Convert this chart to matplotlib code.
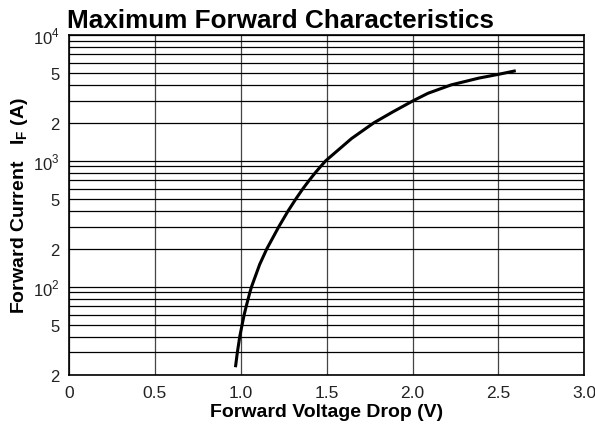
import matplotlib
matplotlib.use('Agg')
import matplotlib.pyplot as plt
import numpy as np

plt.rcParams['font.family'] = ['Liberation Sans', 'DejaVu Sans']
plt.rcParams['mathtext.fontset'] = 'custom'
plt.rcParams['mathtext.rm'] = 'Liberation Sans'
plt.rcParams['mathtext.bf'] = 'Liberation Sans:bold'

# curve
volts = [0.969, 0.980, 0.994, 1.008, 1.020, 1.032, 1.043, 1.053, 1.063, 1.110, 1.152,
         1.222, 1.276, 1.322, 1.362, 1.399, 1.433, 1.465, 1.495, 1.645, 1.775, 1.885,
         2.005, 2.090, 2.225, 2.387, 2.500, 2.601]
amps = [22.9, 30, 40, 50, 60, 70, 80, 90, 100, 150, 200,
        300, 400, 500, 600, 700, 800, 900, 1000, 1500, 2000, 2440,
        3000, 3430, 4000, 4530, 4850, 5180]

x_ticks = [0, 0.5, 1.0, 1.5, 2.0, 2.5, 3.0]
x_labels = ['0', '0.5', '1.0', '1.5', '2.0', '2.5', '3.0']

# horizontal grid lines at every 1-9 step of each decade
y_grid = [20, 30, 40, 50, 60, 70, 80, 90,
          100, 200, 300, 400, 500, 600, 700, 800, 900,
          1000, 2000, 3000, 4000, 5000, 6000, 7000, 8000, 9000, 10000]
y_named = {20: '2', 50: '5', 100: '10$^{\\mathregular{2}}$', 200: '2', 500: '5',
           1000: '10$^{\\mathregular{3}}$', 2000: '2', 5000: '5',
           10000: '10$^{\\mathregular{4}}$'}

fig = plt.figure(figsize=(5.95, 4.31), dpi=100)
ax = fig.add_axes([0.116, 0.1285, 0.866, 0.7885])

ax.plot(volts, amps, color='black', linewidth=2.2, solid_capstyle='butt',
        solid_joinstyle='round')

ax.set_yscale('log')
ax.set_xlim(0, 3.0)
ax.set_ylim(20, 10000)

ax.yaxis.set_minor_locator(matplotlib.ticker.NullLocator())
ax.set_yticks(y_grid)
ax.set_yticklabels([y_named.get(v, '') for v in y_grid])
ax.set_xticks(x_ticks)
ax.set_xticklabels(x_labels)
ax.tick_params(axis='both', length=0, colors='#222222')
ax.tick_params(axis='y', pad=6.5, labelsize=12)
ax.tick_params(axis='x', pad=7.5, labelsize=12.5)

ax.grid(True, axis='y', color='black', linewidth=0.9)
ax.grid(True, axis='x', color='#444444', linewidth=0.9)
for s in ax.spines.values():
    s.set_linewidth(1.2)
    s.set_color('black')

ax.set_xlabel('Forward Voltage Drop (V)', fontsize=14, fontweight='bold', labelpad=2)
ax.set_ylabel('Forward Current   I$_{\\mathbf{F}}$ (A)', fontsize=14, fontweight='bold', labelpad=2)

fig.text(0.113, 1 - 28.3 / 431, 'Maximum Forward Characteristics', fontsize=18.8,
         fontweight='bold', ha='left', va='baseline')

fig.savefig('out.png', dpi=100)
